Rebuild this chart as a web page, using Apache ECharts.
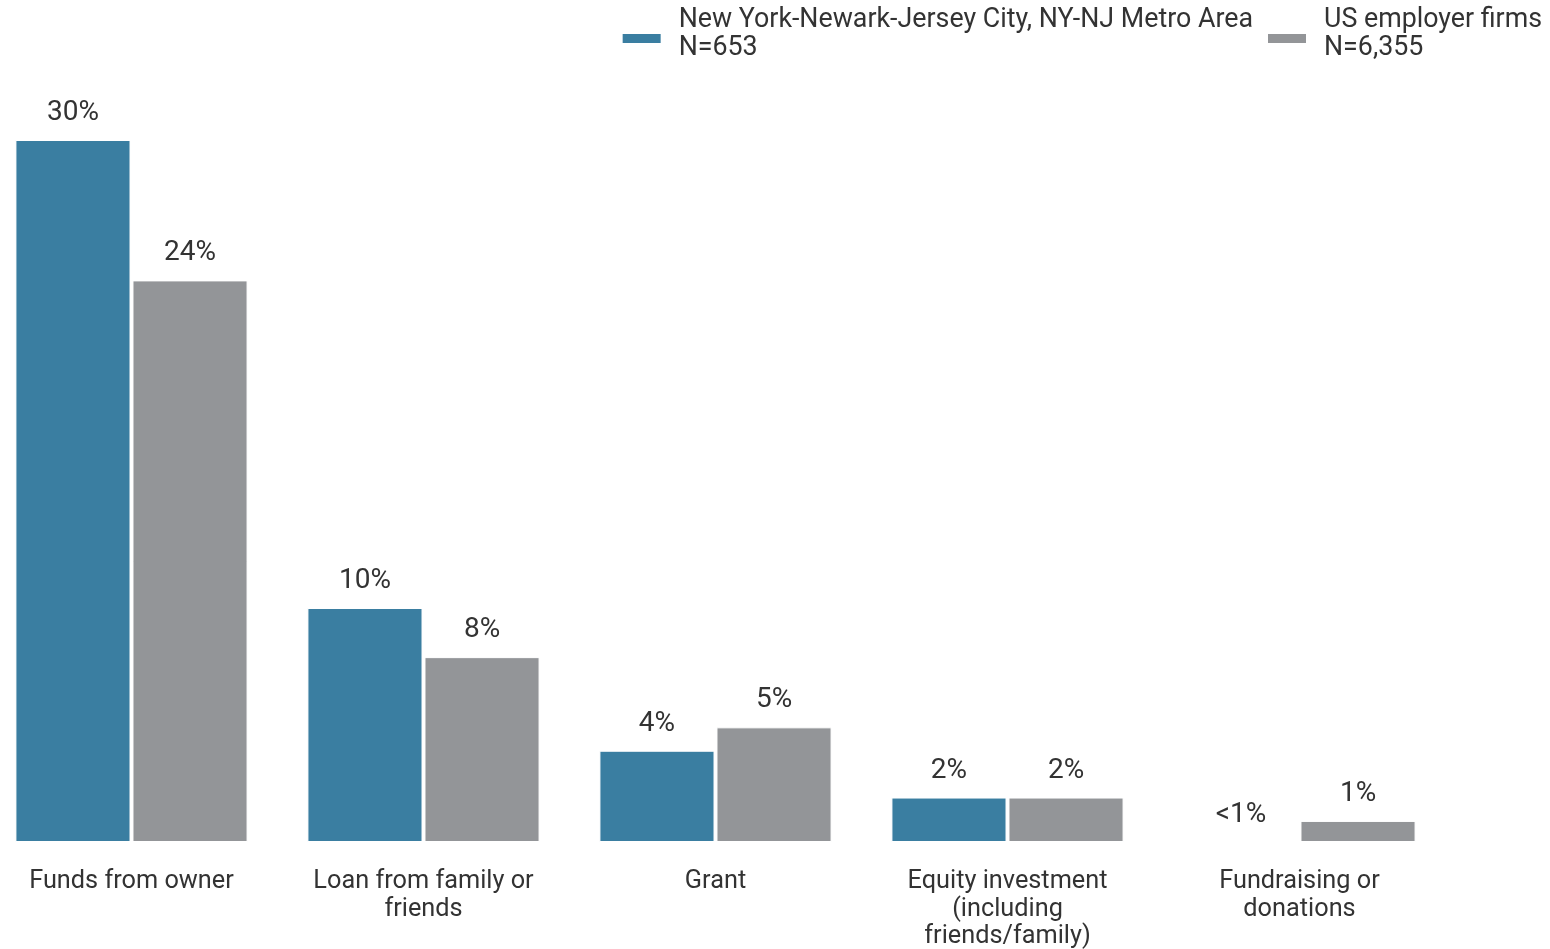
<!DOCTYPE html>
<html><head><meta charset="utf-8">
<script src="https://cdn.jsdelivr.net/npm/echarts@6/dist/echarts.min.js"></script>
<style>html,body{margin:0;padding:0;background:#fff}#c{width:1550px;height:949px}</style>
</head><body><div id="c"></div>
<script>
const categories = ['Funds from owner', 'Loan from family or\nfriends', 'Grant', 'Equity investment\n(including\nfriends/family)', 'Fundraising or\ndonations'];
const seriesNames = ['New York-Newark-Jersey City, NY-NJ Metro Area\nN=653', 'US employer firms\nN=6,355'];
const nyValues = [30, 10, 3.9, 1.9, 0];
const usValues = [24, 7.9, 4.9, 1.9, 0.9];
const nyLabels = ['30%', '10%', '4%', '2%', '<1%'];
const usLabels = ['24%', '8%', '5%', '2%', '1%'];
const colors = ['#3a7ea1', '#939598'];
const font = 'Roboto';
const chart = echarts.init(document.getElementById('c'), null, {renderer: 'canvas'});
function mkSeries(name, vals, labels, color) {
  return {
    name, type: 'bar', data: vals, barGap: '1.7%', barCategoryGap: '20.5%',
    itemStyle: {color, borderColor: '#fff', borderWidth: 1},
    label: {show: true, position: 'top', distance: 13, fontFamily: font, fontSize: 28, color: '#333',
      formatter: p => labels[p.dataIndex]},
    animation: false
  };
}
chart.setOption({
  animation: false,
  textStyle: {fontFamily: font},
  legend: {
    right: 3, top: 1, itemWidth: 40, itemHeight: 20, itemGap: 13,
    icon: 'path://M0,0M0,9h40v11h-40z',
    textStyle: {fontFamily: font, fontSize: 26.8, color: '#333', lineHeight: 28, padding: [0, 0, 0, 12]},
    data: seriesNames
  },
  grid: {left: -14.5, width: 1460, top: 140, bottom: 107, containLabel: false, outerBoundsMode: 'none'},
  xAxis: {type: 'category', data: categories, axisLine: {show: false}, axisTick: {show: false},
    axisLabel: {fontFamily: font, fontSize: 25.3, color: '#333', lineHeight: 27.5, margin: 26, interval: 0}},
  yAxis: {type: 'value', min: 0, max: 30, show: false, splitLine: {show: false}},
  series: [mkSeries(seriesNames[0], nyValues, nyLabels, colors[0]), mkSeries(seriesNames[1], usValues, usLabels, colors[1])]
});
</script></body></html>
